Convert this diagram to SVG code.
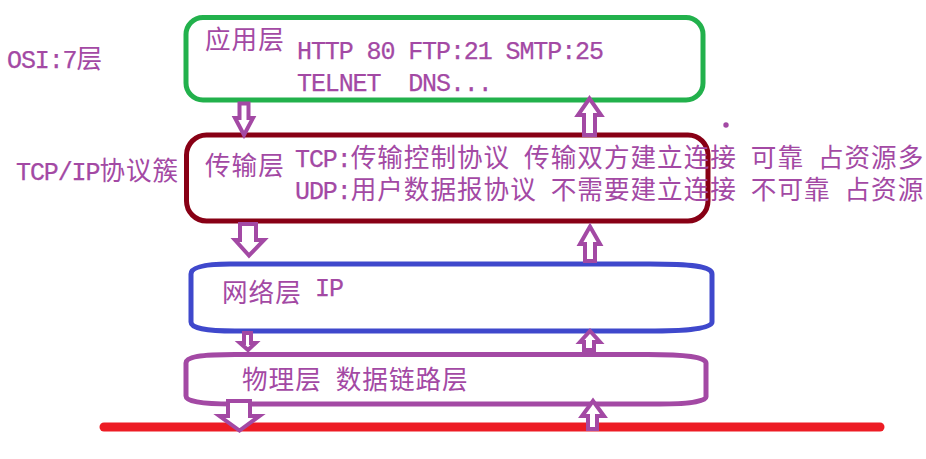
<svg xmlns="http://www.w3.org/2000/svg" width="926" height="459" viewBox="0 0 926 459">
<style>
text{fill:#a349a4;font-family:"Liberation Mono","Noto Sans CJK SC",monospace;font-size:25px;letter-spacing:-1.1px;stroke:#a349a4;stroke-width:0.25px}
.c{font-family:"Noto Sans CJK SC","Liberation Sans",sans-serif;font-size:25.6px;letter-spacing:1px;stroke:none}
.box{fill:none;stroke-width:5}
.arrow{fill:#fff;stroke:#a349a4;stroke-width:4;stroke-linejoin:miter}
</style>
<rect x="0" y="0" width="926" height="459" fill="#fff"/>
<text id="osi-label" x="7" y="68">OSI:7<tspan class="c">层</tspan></text>
<text id="tcpip-label" x="16" y="180">TCP/IP<tspan class="c">协议簇</tspan></text>
<g id="layer-application">
<rect class="box" x="186" y="17.5" width="517" height="82.5" rx="17" stroke="#22b14c"/>
<text class="c" x="205" y="49">应用层</text>
<text x="297" y="59" xml:space="preserve">HTTP 80 FTP:21 SMTP:25</text>
<text x="297" y="91" xml:space="preserve">TELNET  DNS...</text>
</g>
<g id="layer-transport">
<rect class="box" x="186.5" y="135" width="521.5" height="86" rx="20" stroke="#880015"/>
<text class="c" x="205" y="175">传输层</text>
<text x="295" y="167" xml:space="preserve">TCP:<tspan class="c">传输控制协议</tspan> <tspan class="c">传输双方建立连接</tspan> <tspan class="c">可靠</tspan> <tspan class="c">占资源多</tspan></text>
<text x="295" y="199" xml:space="preserve">UDP:<tspan class="c">用户数据报协议</tspan> <tspan class="c">不需要建立连接</tspan> <tspan class="c">不可靠</tspan> <tspan class="c">占资源</tspan></text>
</g>
<g id="layer-network">
<path class="box" stroke="#3f48cc" d="M230,264 H650 C690,264 712,266 712,274 V322 C712,328 690,331 655,331 H235 C205,331 191,328 191,322 V274 C191,267 205,264 230,264 Z"/>
<text x="222" y="302" xml:space="preserve"><tspan class="c">网络层</tspan> <tspan x="315" y="296">IP</tspan></text>
</g>
<g id="layer-physical">
<path class="box" stroke="#a349a4" d="M235,354.5 H648 C685,354.5 706,357 706,363 V397 C706,402 685,404 660,404 H232 C200,404 186,401 186,396 V363 C186,357 200,354.5 235,354.5 Z"/>
<text x="242" y="389" xml:space="preserve"><tspan class="c">物理层</tspan> <tspan class="c">数据链路层</tspan></text>
</g>
<g id="medium">
<line x1="104" y1="427" x2="880" y2="427" stroke="#ed1c24" stroke-width="9" stroke-linecap="round"/>
</g>
<circle id="dot" cx="726" cy="125" r="2.7" fill="#a349a4"/>
<g id="connectors">
<polygon class="arrow" points="239.5,103.5 248.5,103.5 248.5,118 253,118 244,135 235,118 239.5,118"/>
<polygon class="arrow" points="584,135 595,135 595,115 601,115 589.5,98.5 578,115 584,115"/>
<polygon class="arrow" points="240,224 256,224 256,240 264,240 249,255.5 235,240 240,240"/>
<polygon class="arrow" points="585,261 595,261 595,244 600,244 590,226.5 580,244 585,244"/>
<polygon class="arrow" points="244,333 251,333 251,343 255.5,343 248,350 240,343 244,343"/>
<polygon class="arrow" points="584,350 594,350 594,342 600,342 590,331 580,342 584,342"/>
<polygon class="arrow" points="228,401 250,401 250,416 259.5,416 239.5,430.5 219.5,416 228,416"/>
<polygon class="arrow" points="588,429 597,429 597,416 604,416 593,401 582,416 588,416"/>
</g>
</svg>
